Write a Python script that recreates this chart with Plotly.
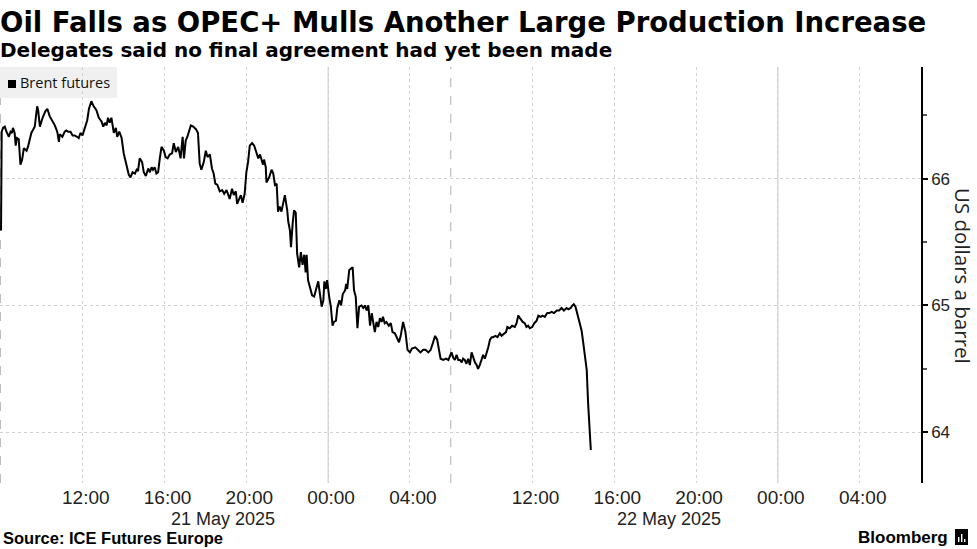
import plotly.graph_objects as go

# ---------------- data ----------------
# Brent futures, trading-time axis (times in the chart's local time)
times_may21 = [
    "08:00", "08:02", "08:06", "08:11", "08:16", "08:23", "08:28", "08:32", "08:35", "08:40",
    "08:43", "08:47", "08:52", "08:57", "09:02", "09:07", "09:15", "09:19", "09:29", "09:34",
    "09:39", "09:46", "09:49", "09:54", "10:02", "10:10", "10:16", "10:23", "10:30", "10:38",
    "10:45", "10:50", "10:52", "11:00", "11:07", "11:12", "11:17", "11:24", "11:30", "11:36",
    "11:43", "11:48", "11:53", "11:59", "12:06", "12:13", "12:18", "12:25", "12:32", "12:40",
    "12:47", "12:55", "13:00", "13:05", "13:10", "13:14", "13:19", "13:24", "13:31", "13:37",
    "13:41", "13:47", "13:54", "14:00", "14:08", "14:15", "14:20", "14:26", "14:33", "14:38",
    "14:42", "14:47", "14:54", "14:59", "15:05", "15:12", "15:17", "15:22", "15:26", "15:31",
    "15:36", "15:41", "15:46", "15:51", "15:58", "16:03", "16:09", "16:15", "16:22", "16:27",
    "16:33", "16:40", "16:47", "16:53", "16:57", "17:02", "17:07", "17:11", "17:17", "17:24",
    "17:32", "17:38", "17:43", "17:48", "17:55", "18:01", "18:06", "18:13", "18:19", "18:24",
    "18:29", "18:35", "18:42", "18:49", "18:55", "19:02", "19:06", "19:11", "19:18", "19:23",
    "19:29", "19:33", "19:39", "19:44", "19:49", "19:55", "20:00", "20:05", "20:10", "20:17",
    "20:23", "20:30", "20:35", "20:40", "20:49", "20:52", "20:57", "20:59", "21:07", "21:14",
    "21:19", "21:24", "21:29", "21:33", "21:38", "21:43", "21:48", "21:53", "22:00", "22:03",
    "22:08", "22:11", "22:16", "22:20", "22:25", "22:29", "22:35", "22:40", "22:45", "22:50",
    "22:54", "22:57", "23:01", "23:06", "23:13", "23:19", "23:26", "23:31", "23:36", "23:41",
    "23:46", "23:49", "23:53", "23:57",
]
prices_may21 = [
    65.59, 66.37, 66.40, 66.41, 66.37, 66.33, 66.37, 66.36, 66.40, 66.36,
    66.26, 66.32, 66.31, 66.11, 66.15, 66.24, 66.22, 66.25, 66.36, 66.38,
    66.41, 66.57, 66.54, 66.41, 66.48, 66.53, 66.55, 66.49, 66.46, 66.42,
    66.37, 66.29, 66.35, 66.33, 66.37, 66.38, 66.37, 66.37, 66.34, 66.34,
    66.33, 66.32, 66.36, 66.34, 66.40, 66.46, 66.55, 66.61, 66.57, 66.54,
    66.48, 66.45, 66.41, 66.44, 66.42, 66.48, 66.44, 66.48, 66.36, 66.40,
    66.33, 66.37, 66.32, 66.20, 66.11, 66.03, 66.01, 66.05, 66.04, 66.07,
    66.06, 66.16, 66.13, 66.05, 66.02, 66.08, 66.05, 66.09, 66.07, 66.09,
    66.04, 66.05, 66.16, 66.25, 66.22, 66.17, 66.16, 66.19, 66.20, 66.28,
    66.21, 66.25, 66.16, 66.33, 66.16, 66.30, 66.33, 66.36, 66.42, 66.41,
    66.39, 66.36, 66.12, 66.07, 66.13, 66.22, 66.17, 66.19, 66.08, 66.04,
    65.96, 65.95, 65.90, 65.91, 65.88, 65.91, 65.88, 65.84, 65.92, 65.87,
    65.90, 65.80, 65.84, 65.87, 65.81, 65.88, 66.05, 66.13, 66.26, 66.28,
    66.26, 66.19, 66.16, 66.19, 66.11, 66.15, 66.09, 65.97, 66.01, 66.07,
    66.04, 65.95, 65.96, 65.74, 65.78, 65.74, 65.80, 65.87, 65.75, 65.66,
    65.59, 65.46, 65.65, 65.75, 65.73, 65.41, 65.30, 65.42, 65.32, 65.40,
    65.26, 65.40, 65.20, 65.15, 65.08, 65.07, 65.13, 65.19, 65.09, 64.99,
    65.04, 65.19, 65.13, 65.20,
]
times_may22 = [
    "00:03", "00:08", "00:13", "00:17", "00:23", "00:27", "00:33", "00:38", "00:43", "00:50",
    "00:53", "00:56", "01:02", "01:07", "01:12", "01:16", "01:21", "01:26", "01:31", "01:38",
    "01:43", "01:48", "01:53", "01:58", "02:03", "02:08", "02:12", "02:17", "02:22", "02:27",
    "02:32", "02:37", "02:41", "02:46", "02:51", "02:58", "03:04", "03:09", "03:16", "03:22",
    "03:28", "03:33", "03:40", "03:47", "03:53", "04:00", "04:06", "04:16", "04:24", "04:31",
    "04:39", "04:46", "04:54", "05:01", "05:07", "05:14", "05:20", "05:26", "05:30", "05:38",
    "05:46", "05:53", "05:58",
    "08:02", "08:07", "08:12", "08:17", "08:22", "08:27", "08:32", "08:36", "08:41", "08:46",
    "08:51", "08:56", "09:01", "09:06", "09:11", "09:16", "09:20", "09:25", "09:30", "09:35",
    "09:40", "09:45", "09:50", "09:55", "10:00", "10:04", "10:11", "10:17", "10:24", "10:29",
    "10:36", "10:42", "10:46", "10:53", "11:00", "11:08", "11:13", "11:18", "11:23", "11:31",
    "11:37", "11:42", "11:47", "11:52", "11:59", "12:05", "12:12", "12:17", "12:24", "12:29",
    "12:36", "12:43", "12:49", "12:56", "13:03", "13:11", "13:18", "13:25", "13:32", "13:40",
    "13:45", "13:52", "13:57", "14:01", "14:06", "14:11", "14:17", "14:24", "14:29", "14:33",
    "14:37", "14:39", "14:43", "14:48", "14:51",
]
prices_may22 = [
    65.07, 64.99, 64.84, 64.87, 64.88, 64.98, 65.04, 65.00, 65.09, 65.12,
    65.17, 65.13, 65.28, 65.29, 65.30, 65.12, 65.07, 64.82, 64.99, 65.00,
    64.98, 65.00, 64.96, 65.00, 64.84, 64.94, 64.88, 64.79, 64.87, 64.83,
    64.90, 64.87, 64.91, 64.86, 64.87, 64.84, 64.86, 64.79, 64.78, 64.75,
    64.71, 64.76, 64.87, 64.79, 64.65, 64.63, 64.66, 64.67, 64.65, 64.63,
    64.65, 64.65, 64.63, 64.65, 64.70, 64.76, 64.73, 64.65, 64.58, 64.57,
    64.58, 64.57, 64.61,
    64.63, 64.59, 64.57, 64.61, 64.57, 64.57, 64.55, 64.58, 64.57, 64.54,
    64.58, 64.53, 64.63, 64.59, 64.55, 64.53, 64.50, 64.53, 64.58, 64.61,
    64.58, 64.62, 64.67, 64.73, 64.75, 64.75, 64.76, 64.75, 64.78, 64.76,
    64.78, 64.79, 64.83, 64.82, 64.84, 64.83, 64.86, 64.92, 64.90, 64.87,
    64.86, 64.83, 64.84, 64.82, 64.83, 64.86, 64.88, 64.92, 64.91, 64.92,
    64.91, 64.94, 64.94, 64.95, 64.94, 64.96, 64.96, 64.98, 64.96, 64.98,
    64.97, 64.98, 65.00, 65.01, 64.99, 64.94, 64.88, 64.80, 64.70, 64.62,
    64.57, 64.49, 64.23, 63.99, 63.86,
]

x_tick_times = [
    "2025-05-21 12:00", "2025-05-21 16:00", "2025-05-21 20:00", "2025-05-22 00:00",
    "2025-05-22 04:00", "2025-05-22 12:00", "2025-05-22 16:00", "2025-05-22 20:00",
    "2025-05-23 00:00", "2025-05-23 04:00",
]
x_tick_labels = ["12:00", "16:00", "20:00", "00:00", "04:00",
                 "12:00", "16:00", "20:00", "00:00", "04:00"]
midnights = ["2025-05-22 00:00", "2025-05-23 00:00"]
session_starts = ["2025-05-21 07:58", "2025-05-22 08:00"]
session_labels = ["21 May 2025", "22 May 2025"]
session_label_times = ["2025-05-21 18:50", "2025-05-22 18:40"]
y_ticks = [64, 65, 66]

times = ["2025-05-21 " + t for t in times_may21] + ["2025-05-22 " + t for t in times_may22]
prices = prices_may21 + prices_may22

# ---------------- figure ----------------
narrow = "Liberation Sans Narrow, Arial Narrow, sans-serif"
PW, PH = 921, 416  # plot area size in px
fig = go.Figure()
fig.add_trace(go.Scatter(
    x=times, y=prices, mode="lines",
    line=dict(color="#000000", width=2),
    name="Brent futures", showlegend=False, hoverinfo="skip",
))

fig.update_layout(
    width=977, height=549,
    margin=dict(l=0, r=56, t=67, b=66),
    paper_bgcolor="white", plot_bgcolor="white",
    font=dict(family=narrow, color="#000000"),
    showlegend=False,
)

fig.update_xaxes(
    type="date",
    range=["2025-05-21 07:57", "2025-05-23 07:00"],
    rangebreaks=[dict(values=["2025-05-22 06:00:00"], dvalue=2 * 3600 * 1000)],
    tickvals=x_tick_times, ticktext=x_tick_labels,
    tickfont=dict(family=narrow, size=19, color="#222222"),
    showgrid=True, gridcolor="#d2d2d2", griddash="dot", gridwidth=1,
    showline=False, zeroline=False, ticks="", ticklabelstandoff=1, ticklabelshift=3,
)
fig.update_yaxes(
    side="right",
    range=[63.6, 66.88],
    tickvals=y_ticks,
    tickfont=dict(family=narrow, size=17, color="#222222"),
    showgrid=True, gridcolor="#d2d2d2", griddash="dot", gridwidth=1,
    showline=True, linecolor="#000000", linewidth=1.5,
    ticks="outside", ticklen=5, tickcolor="#000000", tickwidth=1.5,
    minor=dict(dtick=0.5, ticks="outside", ticklen=4, tickcolor="#555555", showgrid=False),
    zeroline=False,
)

shapes = []
for m in midnights:
    shapes.append(dict(type="line", xref="x", yref="paper", x0=m, x1=m, y0=0, y1=1,
                       line=dict(color="#c8c8c8", width=1), layer="below"))
for s in session_starts:
    shapes.append(dict(type="line", xref="x", yref="paper", x0=s, x1=s, y0=0, y1=1,
                       line=dict(color="#b0b0b0", width=1, dash="dash"), layer="below"))
# legend box
shapes.append(dict(type="rect", xref="paper", yref="paper",
                   x0=0, x1=117 / PW, y0=1 - 31 / PH, y1=1.0,
                   fillcolor="#f0f0f0", line=dict(width=0), layer="below"))
shapes.append(dict(type="rect", xref="paper", yref="paper",
                   x0=8 / PW, x1=16 / PW, y0=1 - 21 / PH, y1=1 - 13 / PH,
                   fillcolor="#000000", line=dict(width=0)))
# Bloomberg logo glyph (black tile with white bars)
shapes.append(dict(type="rect", xref="paper", yref="paper",
                   x0=955 / PW, x1=968 / PW, y0=-(529 - 483) / PH, y1=-(545 - 483) / PH,
                   fillcolor="#000000", line=dict(width=0)))
for bx0, btop in [(958, 537), (961, 534), (964, 539)]:
    shapes.append(dict(type="rect", xref="paper", yref="paper",
                       x0=bx0 / PW, x1=(bx0 + 1.4) / PW,
                       y0=-(btop - 483) / PH, y1=-(542 - 483) / PH,
                       fillcolor="#ffffff", line=dict(width=0)))
fig.update_layout(shapes=shapes)

ann = []
ann.append(dict(text="<b>Oil Falls as OPEC+ Mulls Another Large Production Increase</b>",
                xref="paper", yref="paper", x=0, y=1 + (67 - 4) / PH,
                xanchor="left", yanchor="top", showarrow=False, xshift=-2,
                font=dict(family="DejaVu Sans", size=27.5, color="#000000")))
ann.append(dict(text="<b>Delegates said no final agreement had yet been made</b>",
                xref="paper", yref="paper", x=0, y=1 + (67 - 36) / PH,
                xanchor="left", yanchor="top", showarrow=False, xshift=-2,
                font=dict(family="DejaVu Sans", size=20, color="#000000")))
ann.append(dict(text="Brent futures", xref="paper", yref="paper",
                x=18 / PW, y=1 - 16 / PH, xanchor="left", yanchor="middle",
                showarrow=False, font=dict(family="Open Sans", size=14.5, color="#111111")))
ann.append(dict(text="US dollars a barrel", xref="paper", yref="paper",
                x=963 / PW, y=1 - (276 - 67) / PH, xanchor="center", yanchor="middle",
                textangle=90, showarrow=False,
                font=dict(family="Open Sans", size=20.5, color="#222222")))
for lbl, t in zip(session_labels, session_label_times):
    ann.append(dict(text=lbl, xref="x", yref="paper", x=t, y=-(519 - 483) / PH,
                    xanchor="center", yanchor="middle", showarrow=False,
                    font=dict(family=narrow, size=18, color="#222222")))
ann.append(dict(text="<b>Source: ICE Futures Europe</b>", xref="paper", yref="paper",
                x=0, y=-(538 - 483) / PH, xanchor="left", yanchor="middle", xshift=1,
                showarrow=False, font=dict(family=narrow, size=16.5, color="#000000")))
ann.append(dict(text="<b>Bloomberg</b>", xref="paper", yref="paper",
                x=950 / PW, y=-(537 - 483) / PH, xanchor="right", yanchor="middle",
                showarrow=False, font=dict(family="Liberation Sans", size=17, color="#000000")))
fig.update_layout(annotations=ann)

fig.write_html("out.html", config={"displayModeBar": False},
               post_script="document.body.style.margin='0';document.body.style.overflow='hidden';")
